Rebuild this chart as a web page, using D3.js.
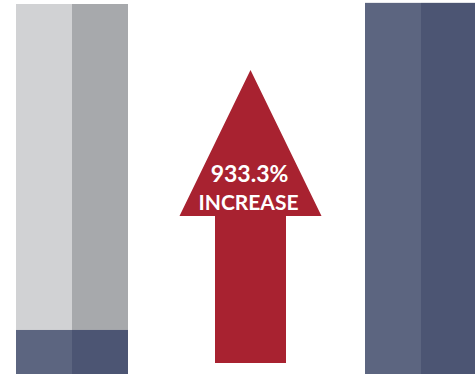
<!DOCTYPE html>
<html>
<head>
<meta charset="utf-8">
<script src="https://cdn.jsdelivr.net/npm/d3@7"></script>
<style>
  html, body { margin: 0; padding: 0; background: #fff; }
  svg { display: block; }
</style>
</head>
<body>
<div id="chart"></div>
<script>
"use strict";

// ── Data ──────────────────────────────────────────────────────────────────────
const bars       = ["before", "after"];
const totals     = [100, 100.3];    // full bar height (before = grey track)
const filled     = [11.9, 100.3];   // blue portion
const halves     = ["light", "dark"];
const changePct  = "933.3%";
const changeWord = "INCREASE";

// ── Layout ────────────────────────────────────────────────────────────────────
const W = 475, H = 374;

const svg = d3.select("#chart").append("svg")
  .attr("width", W)
  .attr("height", H);

const x = d3.scaleOrdinal().domain(bars).range([16, 365]);
const barW = 112;
const xHalf = d3.scaleBand().domain(halves).range([0, barW]);

const y = d3.scaleLinear().domain([0, 100]).range([H, 4]);

const grey = { light: "#d1d2d4", dark: "#a7a9ac" };
const blue = { light: "#5c6580", dark: "#4c5573" };

// ── Bars ──────────────────────────────────────────────────────────────────────
bars.forEach((b, i) => {
  const g = svg.append("g").attr("transform", `translate(${x(b)},0)`);

  g.selectAll("rect.track")
    .data(halves)
    .join("rect")
    .attr("class", "track")
    .attr("x", (d) => xHalf(d))
    .attr("width", xHalf.bandwidth())
    .attr("y", y(totals[i]))
    .attr("height", H - y(totals[i]))
    .attr("fill", (d) => grey[d]);

  g.selectAll("rect.fill")
    .data(halves)
    .join("rect")
    .attr("class", "fill")
    .attr("x", (d) => xHalf(d))
    .attr("width", xHalf.bandwidth())
    .attr("y", y(filled[i]))
    .attr("height", H - y(filled[i]))
    .attr("fill", (d) => blue[d]);
});

// ── Arrow ─────────────────────────────────────────────────────────────────────
const cx = 250.5;
const arrow = d3.path();
arrow.moveTo(cx, 70);
arrow.lineTo(321.5, 216);
arrow.lineTo(286, 216);
arrow.lineTo(286, 363);
arrow.lineTo(215, 363);
arrow.lineTo(215, 216);
arrow.lineTo(179.5, 216);
arrow.closePath();

svg.append("path")
  .attr("d", arrow.toString())
  .attr("fill", "#a82230");

const label = svg.append("g")
  .attr("font-family", "Lato, 'Open Sans', sans-serif")
  .attr("font-weight", 700)
  .attr("fill", "#fff")
  .attr("text-anchor", "middle");

label.append("text")
  .attr("x", cx - 1)
  .attr("y", 182)
  .attr("font-size", 23)
  .text(changePct);

label.append("text")
  .attr("x", cx - 2)
  .attr("y", 210)
  .attr("font-size", 21)
  .text(changeWord);
</script>
</body>
</html>
